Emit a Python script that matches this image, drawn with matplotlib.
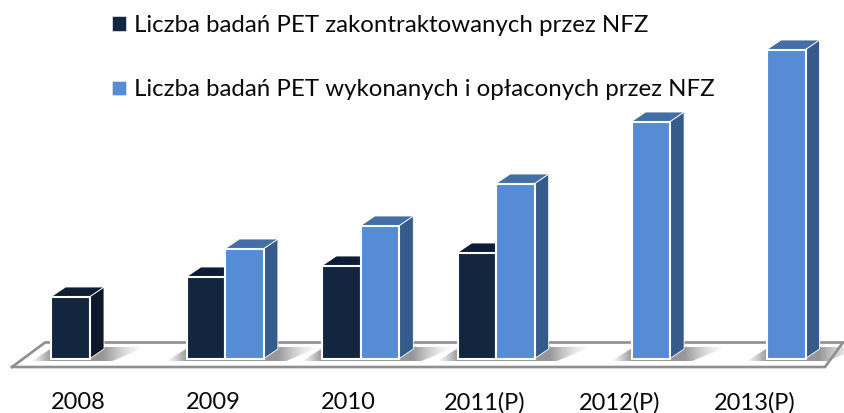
import numpy as np
import matplotlib
matplotlib.use("Agg")
import matplotlib.pyplot as plt
from matplotlib.patches import Polygon, Patch

plt.rcParams['font.family'] = ['Lato', 'DejaVu Sans']

categories = ["2008", "2009", "2010", "2011(P)", "2012(P)", "2013(P)"]
contracted = [62, 82, 93, 106, np.nan, np.nan]
performed = [np.nan, 110, 133, 175, 237, 309]
series_names = ["Liczba badań PET zakontraktowanych przez NFZ",
                "Liczba badań PET wykonanych i opłaconych przez NFZ"]

W, H = 844, 413
STEP = 135.4        # px per category
X0 = 90.0           # px of first category centre
BASE = 358.5        # px of zero line
BW = 38.5 / STEP
DX = 14.0 / STEP
DY = 9.5
GAP_BOTTOM = 380

DARK = ("#12263f", "#0b182b", "#0d1d33")
BLUE = ("#568cd6", "#355b8b", "#436fa6")

fig = plt.figure(figsize=(W / 100, H / 100), dpi=100, facecolor="white")
ax = fig.add_axes([0, (H - GAP_BOTTOM) / H, 1, GAP_BOTTOM / H])
for s in ax.spines.values():
    s.set_visible(False)
ax.set_yticks([])
ax.set_xticks([i - 12 / STEP for i in range(len(categories))])
ax.set_xticklabels(categories, fontsize=17, color="#0a0a0a")
ax.tick_params(axis="x", length=0, pad=8.5)


def px(x):
    return (x - X0) / STEP


# floor
floor_y = [BASE - 367, BASE - 342.5]
ax.plot([px(12), px(825), px(843), px(844)], [floor_y[0], floor_y[0], floor_y[1], floor_y[1]],
        color="#8f8f8f", lw=1.9, clip_on=False, zorder=2, solid_joinstyle="miter")
ax.plot([px(12), px(45), px(844)], [floor_y[0], floor_y[1], floor_y[1]],
        color="#8f8f8f", lw=1.9, clip_on=False, zorder=2, solid_joinstyle="miter")


def shadow(left, right):
    """left/right in data x: base of a bar group."""
    ytop, ybot = BASE - 347, BASE - 361.5
    ext = 21 / STEP
    x0, x1 = left - ext, right + 2.0 * ext + DX
    g = np.linspace(x0, x1, 300)
    a = np.where(g < left,
                 np.clip((g - x0) / ext, 0, 1) ** 1.1,
                 np.where(g > right + DX, np.clip(1 - (g - right - DX) / (2.0 * ext), 0, 1) ** 1.5, 1.0))
    img = np.zeros((1, 300, 4))
    img[..., :3] = 0.4
    img[..., 3] = a * 0.68
    im = ax.imshow(img, extent=[x0, x1, ybot, ytop], aspect="auto", zorder=1,
                   interpolation="bilinear")
    clip = Polygon([(x0, ybot), (right + ext, ybot), (x1, ytop),
                    (left + 0.1 * ext, ytop)], transform=ax.transData)
    im.set_clip_path(clip)


def bar3d(x, v, cols, z):
    l, r = x, x + BW
    ax.bar(l, v, width=BW, align="edge", color=cols[0], edgecolor="white", linewidth=1.5, zorder=z + 0.2)
    ax.add_patch(Polygon([(r, 0), (r + DX, DY), (r + DX, v + DY), (r, v)], closed=True,
                         facecolor=cols[1], edgecolor="white", linewidth=0.6, zorder=z))
    ax.add_patch(Polygon([(l, v), (l + DX, v + DY), (r + DX, v + DY), (r, v)], closed=True,
                         facecolor=cols[2], edgecolor="white", linewidth=0.6, zorder=z))


for i in range(len(categories)):
    has_c = not np.isnan(contracted[i])
    has_p = not np.isnan(performed[i])
    shadow(i - BW if has_c else i, i + BW if has_p else i)
    if has_c:
        bar3d(i - BW, contracted[i], DARK, 3 + i)
    if has_p:
        bar3d(i, performed[i], BLUE, 3.5 + i)

ax.set_xlim(-X0 / STEP, (W - X0) / STEP)
ax.set_ylim(-(GAP_BOTTOM - BASE), BASE)

handles = [Patch(facecolor=DARK[0], edgecolor="#dfe6f2", linewidth=0.5),
           Patch(facecolor=BLUE[0], edgecolor="#dfe6f2", linewidth=0.5)]
leg = fig.legend(handles, series_names, loc="upper left", bbox_to_anchor=(105 / W, 1 - 7.5 / H),
                 bbox_transform=fig.transFigure, frameon=False, fontsize=17.3,
                 handlelength=0.56, handleheight=0.56, handletextpad=0.33,
                 labelspacing=1.82, borderaxespad=0, borderpad=0.3, labelcolor="#0a0a0a")

fig.savefig("out.png", dpi=100)
